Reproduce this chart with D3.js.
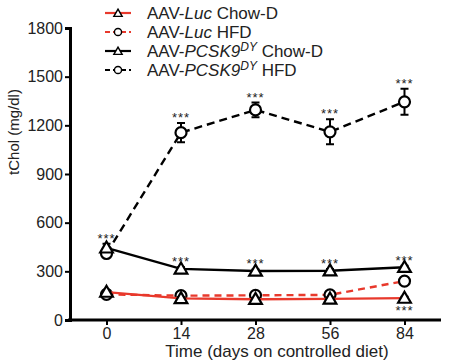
<!DOCTYPE html>
<html>
<head>
<meta charset="utf-8">
<script src="https://cdn.jsdelivr.net/npm/d3@7"></script>
<style>
  body { margin: 0; background: #fff; }
  svg { display: block; font-family: "Liberation Sans", Arial, sans-serif; }
</style>
</head>
<body>
<svg id="chart" width="452" height="363"></svg>
<script>
// data
const days = ["0", "14", "28", "56", "84"];
const yTicks = [0, 300, 600, 900, 1200, 1500, 1800];

const lucChow = [172, 133, 128, 130, 135];
const lucChowErr = [10, 8, 8, 8, 8];
const lucHfd = [158, 150, 152, 155, 240];
const lucHfdErr = [10, 8, 8, 8, 10];
const pcskChow = [445, 315, 302, 304, 325];
const pcskChowErr = [25, 10, 10, 10, 10];
const pcskHfd = [410, 1155, 1295, 1160, 1345];
const pcskHfdErr = [20, 60, 45, 77, 80];

// significance marks: series, day, above/below
const stars = [
  ["pcskChow", "0", "above"],
  ["pcskHfd", "14", "above"], ["pcskChow", "14", "above"],
  ["pcskHfd", "28", "above"], ["pcskChow", "28", "above"],
  ["pcskHfd", "56", "above"], ["pcskChow", "56", "above"],
  ["pcskHfd", "84", "above"], ["pcskChow", "84", "above"],
  ["lucChow", "84", "below"]
];

const red = "#e8392c";
const series = {
  lucChow:  { vals: lucChow,  err: lucChowErr,  color: red,    dash: null,  sym: "tri" },
  lucHfd:   { vals: lucHfd,   err: lucHfdErr,   color: red,    dash: "7,5", sym: "circ" },
  pcskChow: { vals: pcskChow, err: pcskChowErr, color: "#000", dash: null,  sym: "tri" },
  pcskHfd:  { vals: pcskHfd,  err: pcskHfdErr,  color: "#000", dash: "8,5", sym: "circ" }
};
const drawOrder = ["pcskHfd", "pcskChow", "lucHfd", "lucChow"];

const svg = d3.select("#chart");
const x = d3.scalePoint().domain(days).range([70, 441]).padding(0.49);
const y = d3.scaleLinear().domain([0, 1800]).range([320, 28]);

// axes
const xAx = svg.append("g").attr("transform", "translate(0,320)")
  .call(d3.axisBottom(x).tickSizeOuter(0).tickSize(5).tickPadding(3));
const yAx = svg.append("g").attr("transform", "translate(70,0)")
  .call(d3.axisLeft(y).tickValues(yTicks).tickFormat(d3.format("d"))
    .tickSizeOuter(0).tickSize(5).tickPadding(2));
[xAx, yAx].forEach(g => {
  g.attr("font-size", null).attr("font-family", null);
  g.select(".domain").attr("stroke", "#000").attr("stroke-width", 3);
  g.selectAll(".tick line").attr("stroke", "#000").attr("stroke-width", 2);
  g.selectAll(".tick text").attr("fill", "#222").style("font-size", "16px");
});
xAx.select(".domain").attr("d", "M68,0H441");

svg.append("text").attr("x", 277).attr("y", 357).attr("text-anchor", "middle")
  .attr("fill", "#222").style("font-size", "17px").text("Time (days on controlled diet)");
svg.append("text").attr("transform", "translate(19,132) rotate(-90)").attr("text-anchor", "middle")
  .attr("fill", "#222").style("font-size", "15px").text("tChol (mg/dl)");

function marker(g, type, cx, cy, k) {
  if (type === "tri") {
    g.append("path").attr("d", d3.symbol().type(d3.symbolTriangle).size(70 * k * k)())
      .attr("transform", `translate(${cx},${cy + 1})`)
      .attr("fill", "#fff").attr("stroke", "#000").attr("stroke-width", 2.2 * k);
  } else {
    g.append("circle").attr("cx", cx).attr("cy", cy).attr("r", 5.5 * k)
      .attr("fill", "#fff").attr("stroke", "#000").attr("stroke-width", 2.2 * k);
  }
}

const line = d3.line().x((d, i) => x(days[i])).y(d => y(d));

drawOrder.forEach(key => {
  const s = series[key];
  const g = svg.append("g");
  g.append("path").attr("d", line(s.vals)).attr("fill", "none")
    .attr("stroke", s.color).attr("stroke-width", 2.4)
    .attr("stroke-dasharray", s.dash);
  s.vals.forEach((v, i) => {
    const cx = x(days[i]);
    const e = s.err[i];
    g.append("path")
      .attr("d", `M${cx},${y(v + e)}V${y(v - e)}M${cx - 4},${y(v + e)}H${cx + 4}M${cx - 4},${y(v - e)}H${cx + 4}`)
      .attr("stroke", "#000").attr("stroke-width", 2).attr("fill", "none");
    marker(g, s.sym, cx, y(v), 1);
  });
});

// asterisks
svg.append("g").selectAll("text").data(stars).join("text")
  .attr("x", d => x(d[1]))
  .attr("y", d => {
    const s = series[d[0]], i = days.indexOf(d[1]);
    const v = s.vals[i], e = s.err[i];
    return d[2] === "above" ? y(v + e) - 8 + 7 : y(v - e) + 9 + 7;
  })
  .attr("text-anchor", "middle").attr("fill", "#222")
  .style("font-size", "13px").style("letter-spacing", "1px").text("***");

// legend
const legendRows = [
  { key: "lucChow",  parts: [["AAV-", ""], ["Luc", "i"], [" Chow-D", ""]] },
  { key: "lucHfd",   parts: [["AAV-", ""], ["Luc", "i"], [" HFD", ""]] },
  { key: "pcskChow", parts: [["AAV-", ""], ["PCSK9", "i"], ["DY", "sup"], [" Chow-D", ""]] },
  { key: "pcskHfd",  parts: [["AAV-", ""], ["PCSK9", "i"], ["DY", "sup"], [" HFD", ""]] }
];
const legY = d3.scalePoint().domain(d3.range(legendRows.length)).range([13, 70]);
const leg = svg.append("g");
legendRows.forEach((r, i) => {
  const s = series[r.key];
  const ly = legY(i);
  leg.append("line").attr("x1", 105).attr("x2", 131).attr("y1", ly).attr("y2", ly)
    .attr("stroke", s.color).attr("stroke-width", 2.2)
    .attr("stroke-dasharray", s.dash ? "5,3" : null);
  marker(leg, s.sym, 118, ly, 0.65);
  const t = leg.append("text").attr("x", 147).attr("y", ly + 6)
    .attr("fill", "#222").style("font-size", "17px");
  r.parts.forEach(([txt, st]) => {
    const ts = t.append("tspan").text(txt);
    if (st === "i") ts.style("font-style", "italic");
    if (st === "sup") ts.style("font-style", "italic").style("font-size", "12px").attr("dy", -6);
    if (st === "" && r.parts.some(p => p[1] === "sup") && txt.startsWith(" ")) ts.attr("dy", 6);
  });
});
</script>
</body>
</html>
